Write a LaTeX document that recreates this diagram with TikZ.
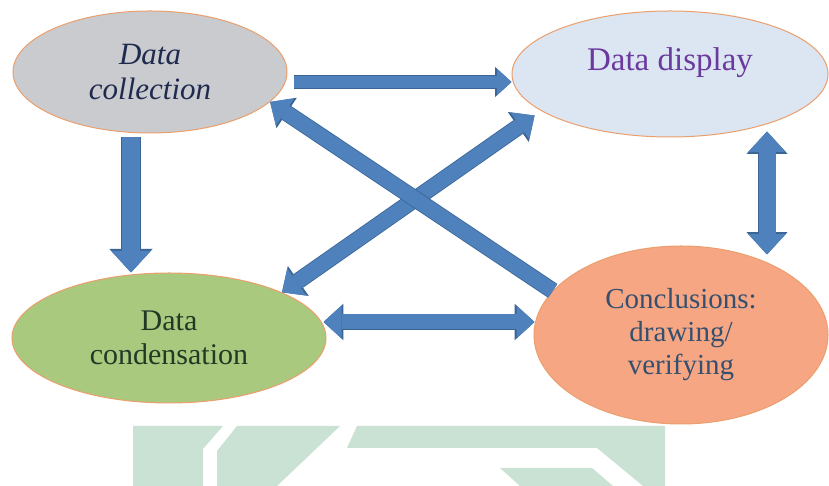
\documentclass[tikz,border=0pt]{standalone}
\usepackage{fontspec}
\setmainfont{Liberation Serif}
\usetikzlibrary{shapes.geometric,arrows.meta}

\definecolor{flowblue}{HTML}{4F81BD}
\definecolor{flowedge}{HTML}{3A6594}
\definecolor{rim}{HTML}{EB9F6C}
\definecolor{collfill}{HTML}{CACBCF}
\definecolor{dispfill}{HTML}{DCE6F2}
\definecolor{condfill}{HTML}{A9C97F}
\definecolor{conclfill}{HTML}{F6A683}
\definecolor{collink}{HTML}{1F2B4E}
\definecolor{dispink}{HTML}{6B3A9E}
\definecolor{condink}{HTML}{213A26}
\definecolor{conclink}{HTML}{34506E}
\definecolor{seal}{HTML}{CAE2D4}

\tikzset{
  flowtip/.tip={Triangle[width=0pt 2.2, length=0pt 1.2, line width=0pt]},
  stage/.style={ellipse, draw=rim, line width=1pt, inner sep=0pt, align=center},
  flow/.style={draw=flowblue, line width=#1, -flowtip,
    preaction={draw=flowedge, line width=#1+1.6pt}},
  flowboth/.style={flow=#1, flowtip-flowtip}
}

\begin{document}
\begin{tikzpicture}[x=1pt,y=1pt]
        \useasboundingbox (0,0) rectangle (829,486);
        \fill[white] (0,0) rectangle (829,486);
        % pale seal along the foot
        \fill[seal] (133,60) -- (223,60) -- (203,37) -- (203,0) -- (133,0) -- cycle;
        \fill[seal] (237,60) -- (340,60) -- (277,0) -- (217,0) -- (217,35) -- cycle;
        \fill[seal] (357,60) -- (665,60) -- (665,0) -- (643,0) -- (597,38) -- (347,38) -- cycle;
        \fill[seal] (500,18) -- (592,18) -- (613,0) -- (520,0) -- cycle;

        \node[stage, fill=collfill, minimum width=274pt, minimum height=122pt, text=collink,
              font=\fontsize{31}{35}\selectfont\itshape] (coll) at (150,414) {Data\\collection};
        \node[stage, fill=dispfill, minimum width=316pt, minimum height=126pt, text=dispink,
              text depth=29pt, font=\fontsize{33}{37}\selectfont] (disp) at (670,412) {Data display};
        \node[stage, fill=condfill, minimum width=314pt, minimum height=130pt, text=condink,
              font=\fontsize{30}{34}\selectfont] (cond) at (169,148) {Data\\condensation};
        \node[stage, fill=conclfill, minimum width=294pt, minimum height=178pt, text=conclink,
              font=\fontsize{29}{33}\selectfont] (concl) at (681,151) {Conclusions:\\drawing/\\verifying};

        \draw[flow=12pt] ([xshift=6pt,yshift=-10pt]coll.east) -- ([yshift=-8pt]disp.west);
        \draw[flow=18pt] ([xshift=-19pt,yshift=-4pt]coll.south) -- ([xshift=-38pt]cond.north);
        \draw[flowboth=17pt] ([xshift=97pt,yshift=6pt]disp.south) -- ([xshift=86pt,yshift=-9pt]concl.north);
        \draw[flowboth=15pt] ([xshift=-3pt,yshift=16pt]cond.east) -- ([xshift=1pt,yshift=13pt]concl.west);
        \draw[flowboth=15pt, shorten >=8pt] (cond.22) -- (disp.196);
        \draw[flow=15pt] (concl.161) -- (coll.-14);
\end{tikzpicture}
\end{document}
